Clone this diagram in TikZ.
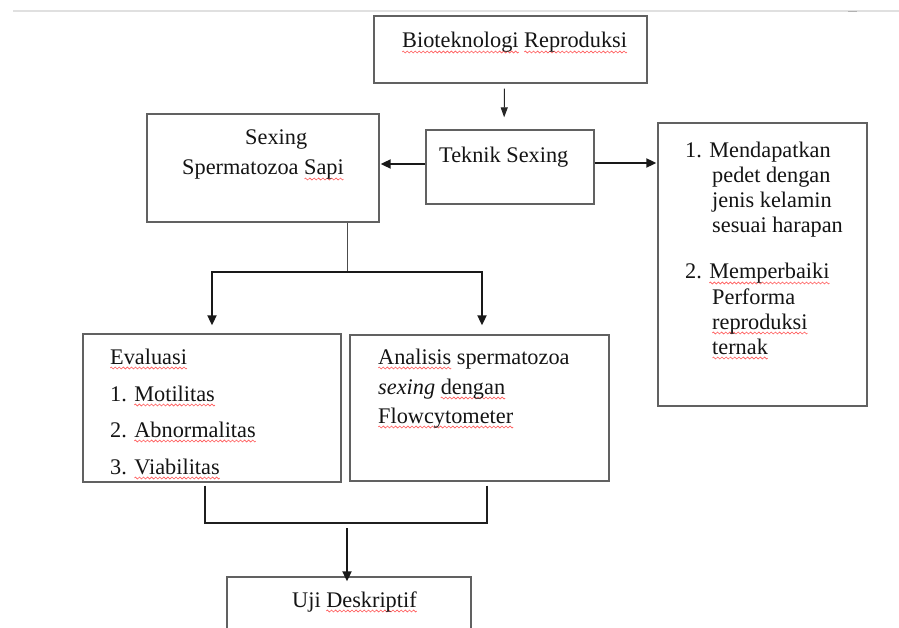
\documentclass[tikz,border=0pt]{standalone}
\usepackage{fontspec}
\setmainfont{Liberation Serif}
\usetikzlibrary{arrows.meta,calc}
\newsavebox\wavebox
\newsavebox\wordbox
\sbox\wavebox{\tikz[baseline=0pt]{\useasboundingbox (0,0) rectangle (4pt,0.1pt);
  \draw[red!65, line width=0.6pt] (0,0) sin (1pt,1pt) cos (2pt,0) sin (3pt,-1pt) cos (4pt,0);}}
\newcommand\sqw[1]{\sbox\wordbox{#1}\rlap{\raisebox{-4pt}{\hbox to \wd\wordbox{\xleaders\copy\wavebox\hfil}}}\usebox\wordbox}
\begin{document}
\begin{tikzpicture}[x=1pt,y=-1pt,
  box/.style={draw=black!62, line width=1.3pt, fill=none, inner sep=0pt},
  txt/.style={inner sep=0pt, anchor=base west, text=black!92, font=\fontsize{22.3}{26}\selectfont},
  arr/.style={draw=black!90, line width=1.8pt, -{Triangle[length=10pt,width=9pt]}},
  thinarr/.style={draw=black!85, line width=1pt, -{Triangle[length=10pt,width=7pt]}},
  conn/.style={draw=black!88, line width=1.8pt},
  thinconn/.style={draw=black!70, line width=1pt}]
\useasboundingbox (0,0) rectangle (899,628);
\fill[white] (0,0) rectangle (899,628);
\draw[black!12, line width=1.2pt] (13,11) -- (899,11);
\draw[black!30, line width=1pt] (848,12) -- (857,12);

% boxes
\node[box, minimum width=273pt, minimum height=67pt] (top) at (510.5,49.5) {};
\node[box, minimum width=168pt, minimum height=74pt] (tek) at (510,167) {};
\node[box, minimum width=232pt, minimum height=108pt] (sex) at (263,168) {};
\node[box, minimum width=209pt, minimum height=283pt] (res) at (762.5,264.5) {};
\node[box, minimum width=258pt, minimum height=148pt] (eva) at (212,408) {};
\node[box, minimum width=259pt, minimum height=146pt] (ana) at (479.5,408) {};
\node[box, minimum width=244pt, minimum height=66pt] (uji) at (349,610) {};

% texts
\node[txt] (tTop) at (402,48) {\sqw{Bioteknologi} \sqw{Reproduksi}};
\node[txt] (tTek) at (439,163) {Teknik Sexing};
\node[txt] (tSex1) at (245,145) {Sexing};
\node[txt] (tSex2) at (182,175) {Spermatozoa \sqw{Sapi}};

\node[txt] (r1) at (685,158) {1. Mendapatkan};
\node[txt] (r2) at (712,183) {pedet dengan};
\node[txt] (r3) at (712,208) {jenis kelamin};
\node[txt] (r4) at (712,233) {sesuai harapan};
\node[txt] (r5) at (685,279) {2. \sqw{Memperbaiki}};
\node[txt] (r6) at (712,304) {Performa};
\node[txt] (r7) at (712,329) {\sqw{reproduksi}};
\node[txt] (r8) at (712,354) {\sqw{ternak}};

\node[txt] (e1) at (110,364) {\sqw{Evaluasi}};
\node[txt] (e2) at (110,401) {1. \sqw{Motilitas}};
\node[txt] (e3) at (110,437) {2. \sqw{Abnormalitas}};
\node[txt] (e4) at (110,474) {3. \sqw{Viabilitas}};

\node[txt] (a1) at (378,364) {\sqw{Analisis} spermatozoa};
\node[txt] (a2) at (378,394) {\textit{sexing} \sqw{dengan}};
\node[txt] (a3) at (378,423) {\sqw{Flowcytometer}};

\node[txt] (u1) at (292,607) {Uji \sqw{Deskriptif}};

% connectors
\draw[thinarr, shorten <=5pt, shorten >=12pt] ([xshift=-6pt]top.south) -- ([xshift=-6pt]tek.north);
\coordinate (tw) at ([yshift=3pt]tek.west);
\coordinate (te) at ([yshift=4pt]tek.east);
\draw[arr, shorten >=1pt] (tw) -- (tw -| sex.east);
\draw[arr, shorten >=1pt] (te) -- (te -| res.west);

\coordinate (split) at (347,272);
\draw[thinconn] ([xshift=84pt]sex.south) -- (split);
\draw[arr, shorten >=8pt] (split) -| (eva.north);
\draw[arr, shorten >=9pt] (split) -| ([xshift=2.5pt]ana.north);

\coordinate (join) at (347,523);
\draw[conn] ([xshift=-7pt,yshift=-3pt]eva.south) |- (join);
\draw[conn] ([xshift=7.5pt,yshift=-4pt]ana.south) |- (join);
\coordinate (jstart) at ($(join)+(0,5)$);
\coordinate (jtip) at ($(join |- uji.north)+(0,5)$);
\draw[arr] (jstart) -- (jtip);
\end{tikzpicture}
\end{document}
